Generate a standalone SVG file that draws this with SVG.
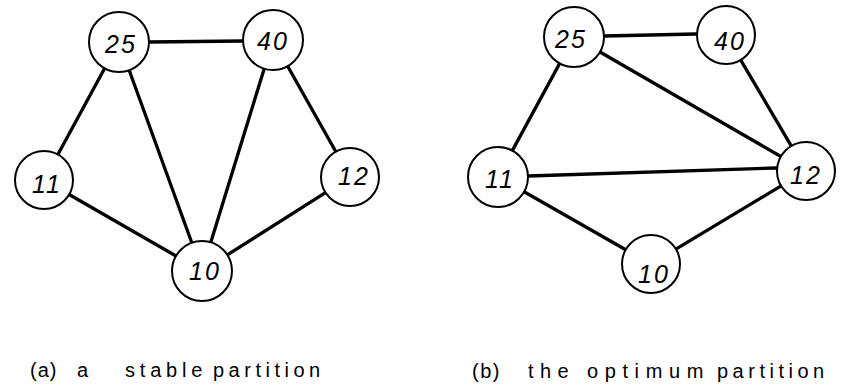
<svg xmlns="http://www.w3.org/2000/svg" width="843" height="391" viewBox="0 0 843 391">
<style>
.n circle{fill:#fff;stroke:#000;stroke-width:2}
.n text{font-family:"Liberation Sans",Arial,sans-serif;font-size:25px;font-style:italic;text-anchor:middle;fill:#000;letter-spacing:2px}
.e line{stroke:#000;stroke-width:3.3;stroke-linecap:round}
.cap{font-family:"Liberation Sans",Arial,sans-serif;font-size:20px;fill:#000}
</style>
<rect width="843" height="391" fill="#fff"/>
<g id="edges-a" class="e">
<line x1="149" y1="42" x2="243" y2="41"/>
<line x1="104.7" y1="68.3" x2="58.3" y2="153.7"/>
<line x1="129.2" y1="70.2" x2="191.8" y2="242.8"/>
<line x1="264.2" y1="68.7" x2="210.8" y2="242.3"/>
<line x1="287.7" y1="66.2" x2="335.3" y2="150.8"/>
<line x1="70" y1="195" x2="176" y2="256"/>
<line x1="324.7" y1="193.1" x2="227.3" y2="254.9"/>
</g>
<g id="a25" class="n"><circle cx="119" cy="42" r="30"/><text x="121" y="53">25</text></g>
<g id="a40" class="n"><circle cx="273" cy="40" r="30"/><text x="273" y="50">40</text></g>
<g id="a11" class="n"><circle cx="44" cy="180" r="29"/><text x="47" y="193">11</text></g>
<g id="a12" class="n"><circle cx="350" cy="177" r="29"/><text x="354" y="185">12</text></g>
<g id="a10" class="n"><circle cx="202" cy="271" r="30"/><text x="205" y="280">10</text></g>

<g id="edges-b" class="e">
<line x1="604" y1="36" x2="696" y2="34"/>
<line x1="559.7" y1="63.4" x2="512.3" y2="150.6"/>
<line x1="600" y1="52" x2="780" y2="156"/>
<line x1="741.2" y1="60.9" x2="790.8" y2="145.1"/>
<line x1="528" y1="176" x2="776" y2="168"/>
<line x1="524.1" y1="191.8" x2="624.9" y2="249.2"/>
<line x1="780.3" y1="186.4" x2="676.7" y2="248.6"/>
</g>
<g id="b25" class="n"><circle cx="574" cy="37" r="30"/><text x="571" y="48">25</text></g>
<g id="b40" class="n"><circle cx="726" cy="35" r="29"/><text x="730" y="50">40</text></g>
<g id="b11" class="n"><circle cx="498" cy="177" r="30"/><text x="500" y="188">11</text></g>
<g id="b12" class="n"><circle cx="806" cy="171" r="29"/><text x="806" y="184">12</text></g>
<g id="b10" class="n"><circle cx="651" cy="264" r="29"/><text x="654" y="283">10</text></g>

<text class="cap" y="377"><tspan x="30" letter-spacing="1">(a)</tspan><tspan x="77">a</tspan><tspan x="125" letter-spacing="4.8">stable</tspan><tspan x="213" letter-spacing="4.5">partition</tspan></text>
<text class="cap" y="378"><tspan x="472" letter-spacing="1.5">(b)</tspan><tspan x="528" letter-spacing="6.4">the</tspan><tspan x="587" letter-spacing="6.6">optimum</tspan><tspan x="717" letter-spacing="4.5">partition</tspan></text>
</svg>
